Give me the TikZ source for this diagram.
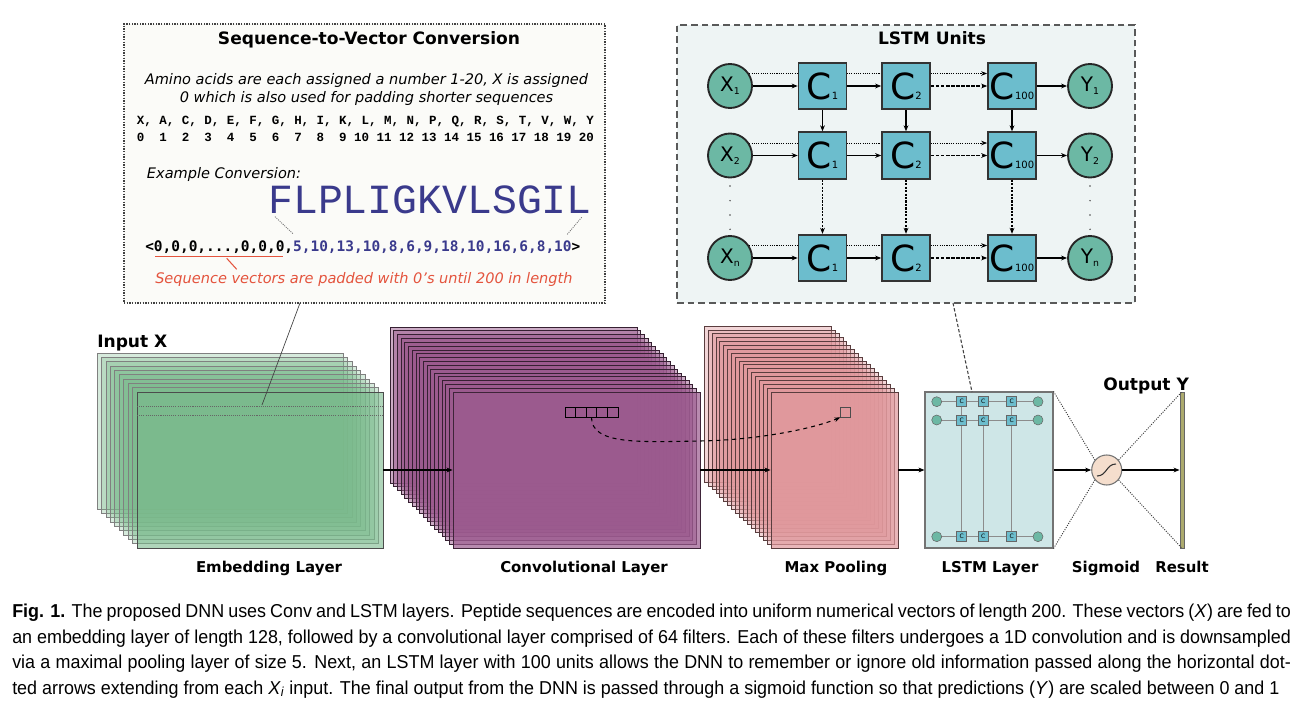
\documentclass[tikz,border=0pt]{standalone}
\usepackage{fontspec}
\setmainfont{DejaVu Sans}
\newfontfamily\courf{Liberation Mono}
\newfontfamily\djmono{DejaVu Sans Mono}
\newfontfamily\capfont[FakeStretch=0.96]{Liberation Sans}
\usetikzlibrary{arrows.meta,calc}
\pgfdeclarelayer{bgl}
\pgfdeclarelayer{midl}
\pgfsetlayers{bgl,midl,main}
\definecolor{navy}{RGB}{58,58,140}
\definecolor{redt}{RGB}{228,84,62}
\definecolor{embG}{RGB}{122,186,140}
\definecolor{convP}{RGB}{155,90,142}
\definecolor{poolR}{RGB}{224,152,156}
\definecolor{lstmL}{RGB}{206,230,231}
\definecolor{cellC}{RGB}{108,189,205}
\definecolor{circG}{RGB}{108,184,164}
\definecolor{sigF}{RGB}{245,222,205}
\definecolor{resG}{RGB}{172,170,110}
\definecolor{seqbg}{RGB}{251,251,248}
\definecolor{lstmbg}{RGB}{238,244,244}
\newcommand{\Cbig}[1]{{\fontsize{27}{27}\selectfont C}{\fontsize{7.5}{7.5}\selectfont #1}}
\newcommand{\Xsm}[2]{{\fontsize{15}{15}\selectfont #1}{\fontsize{7}{7}\selectfont\raisebox{-2.5pt}{#2}}}
\tikzset{
 arr/.style={line width=0.8pt,-{Stealth[length=4.5pt,width=3.6pt]}},
 dasharr/.style={arr, line width=1pt, dash pattern=on 2.6pt off 1.2pt},
 dotarr/.style={line width=0.6pt, dash pattern=on 0.8pt off 0.9pt, -{Stealth[length=4.5pt,width=3.4pt]}},
 cellbox/.style={draw=black!80, line width=1.3pt, fill=cellC, minimum width=36pt, minimum height=35pt, inner sep=0},
 unitcirc/.style={circle, draw=black!85, line width=1.4pt, fill=circG, minimum size=33pt, inner sep=0},
 lbl/.style={font=\bfseries\fontsize{11.2}{13}\selectfont, inner sep=0},
 big/.style={font=\bfseries\fontsize{12.8}{15}\selectfont, inner sep=0},
 ital/.style={font=\itshape\fontsize{10.9}{13.5}\selectfont, inner sep=0},
 sheetE/.style={fill=embG, fill opacity=0.3, draw=black!50, line width=0.5pt},
 sheetC/.style={fill=convP, fill opacity=0.5, draw=convP!35!black, line width=0.5pt},
 sheetP/.style={fill=poolR, fill opacity=0.4, draw=poolR!40!black, line width=0.5pt},
 mcell/.style={draw=black!60, line width=0.4pt, fill=cellC, minimum size=7.5pt, inner sep=0, font=\fontsize{4.5}{5}\selectfont},
 mcirc/.style={circle, draw=black!60, line width=0.4pt, fill=circG, minimum size=7.5pt, inner sep=0},
 win/.style={draw=black, line width=0.6pt, minimum width=7.95pt, minimum height=7.5pt, inner sep=0},
 capl/.style={anchor=base west, inner sep=0, font=\capfont\fontsize{14}{16}\selectfont},
}
\begin{document}
\begin{tikzpicture}[x=0.75pt,y=-0.75pt]
\useasboundingbox (0,0) rectangle (1302,716);

% ---------- background boxes
\begin{pgfonlayer}{bgl}
\fill[white] (0,0) rectangle (1302,716);
\node[draw=black!75, dash pattern=on 1pt off 1pt, line width=0.8pt, fill=seqbg, minimum width=360.75pt, minimum height=209.25pt, inner sep=0] (seqbox) at (364.5,163.5) {};
\node[draw=black!65, dash pattern=on 5pt off 3pt, line width=1.2pt, fill=lstmbg, minimum width=343.5pt, minimum height=208.5pt, inner sep=0] (lstmbox) at (906,164) {};
\end{pgfonlayer}

\node[big, anchor=base] (seqtitle) at (369,44.5) {Sequence-to-Vector Conversion};
\node[ital, anchor=base] (it1) at (366.5,84.8) {Amino acids are each assigned a number 1-20, X is assigned};
\node[ital, anchor=base] (it2) at (366.5,102.8) {0 which is also used for padding shorter sequences};
\foreach \L [count=\i from 0] in {X,A,C,D,E,F,G,H,I,K,L,M,N,P,Q,R,S,T,V,W,Y}{
  \pgfmathsetmacro\lx{136.7+22.47*\i}
  \node[anchor=base west, inner sep=0, font=\courf\bfseries\fontsize{9.36}{10}\selectfont] (l\i) at (\lx,124.7) {\L\ifnum\i<20,\fi};
  \ifnum\i<10
    \node[anchor=base west, inner sep=0, font=\courf\bfseries\fontsize{9.36}{10}\selectfont] (n\i) at (\lx,141.3) {\i};
  \else
    \node[anchor=base west, inner sep=0, font=\courf\bfseries\fontsize{9.36}{10}\selectfont] (n\i) at (\lx-7.49,141.3) {\i};
  \fi
}
\node[ital, anchor=base west] (ex) at (146.7,178.8) {Example Conversion:};
\node[anchor=base west, inner sep=0, text=navy, font=\courf\fontsize{31.1}{32}\selectfont] (seq) at (268,213.3) {FLPLIGKVLSGIL};
\draw[black!55, line width=0.6pt, dash pattern=on 0.8pt off 0.8pt] (275,216.7) -- (293.3,234);
\draw[black!55, line width=0.6pt, dash pattern=on 0.8pt off 0.8pt] (581.7,217.3) -- (566.7,235);
\node[anchor=base west, inner sep=0, font=\djmono\bfseries\fontsize{10.84}{12}\selectfont] (vec) at (145,251.3) {<0,0,0,...,0,0,0,\textcolor{navy}{5,10,13,10,8,6,9,18,10,16,6,8,10}>};
\draw[redt, line width=0.8pt] (155,256.7) -- (283.3,256.7);
\draw[redt, line width=0.8pt] (226.7,258.3) -- (236.7,269.3);
\node[ital, anchor=base west, text=redt] (pad) at (155,283.8) {Sequence vectors are padded with 0's until 200 in length};

% ---------- LSTM units
\node[big, anchor=base] (lstmtitle) at (932,44.5) {LSTM Units};
\foreach \r/\yy in {1/86,2/155.5,n/258}{
  \node[unitcirc] (x\r) at (730,\yy) {\Xsm{X}{\r}};
  \node[cellbox] (a\r) at (822.5,\yy) {\Cbig{1}};
  \node[cellbox] (b\r) at (906,\yy) {\Cbig{2}};
  \node[cellbox] (c\r) at (1012,\yy) {\Cbig{100}};
  \node[unitcirc] (y\r) at (1090,\yy) {\Xsm{Y}{\r}};
}
\begin{pgfonlayer}{midl}
\foreach \r in {1,2,n}{
  \draw[dotarr] (x\r.33) -- (x\r.33 -| c\r.west);
}
\end{pgfonlayer}
\foreach \r in {1,2,n}{
  \draw[arr] (x\r) -- (a\r);
  \draw[arr] (a\r) -- (b\r);
  \draw[dasharr] (b\r) -- (c\r);
  \draw[arr] (c\r) -- (y\r);
}
\foreach \c in {a,b,c}{
  \draw[arr] (\c1) -- (\c2);
  \draw[dasharr, line width=0.9pt, dash pattern=on 1.6pt off 1pt] (\c2) -- (\c n);
}
\foreach \yy in {186,200.7,215,229.3}{
  \fill[black!70] (730,\yy) circle (0.6pt);
  \fill[black!70] (1090,\yy) circle (0.6pt);
}

% ---------- Embedding stack
\foreach \i in {9,8,...,1}{
  \pgfmathsetmacro\ox{137-40*\i/9}
  \pgfmathsetmacro\oy{392-39*\i/9}
  \draw[sheetE] (\ox,\oy) rectangle ++(246,156);
}
\node[fill=embG, fill opacity=0.6, draw=black!70, line width=0.7pt, minimum width=184.5pt, minimum height=117pt, inner sep=0] (emb) at (260,470) {};
\draw[black!60, line width=0.5pt, dash pattern=on 0.8pt off 0.8pt] (137,406) -- (383,406);
\draw[black!60, line width=0.5pt, dash pattern=on 0.8pt off 0.8pt] (137,415) -- (383,415);

% ---------- Conv stack
\foreach \i in {17,16,...,1}{
  \pgfmathsetmacro\ox{453-63*\i/17}
  \pgfmathsetmacro\oy{392-65*\i/17}
  \draw[sheetC] (\ox,\oy) rectangle ++(247,156);
}
\node[fill=convP, fill opacity=0.7, draw=convP!40!black, line width=0.7pt, minimum width=185.25pt, minimum height=117pt, inner sep=0] (conv) at (576.5,470) {};
\foreach \k [count=\j] in {0,1,2,3,4}{
  \node[win] (w\j) at (570.3+10.6*\k,412) {};
}

% ---------- Pool stack
\foreach \i in {17,16,...,1}{
  \pgfmathsetmacro\ox{771-67*\i/17}
  \pgfmathsetmacro\oy{392-66*\i/17}
  \draw[sheetP] (\ox,\oy) rectangle ++(127,156);
}
\node[fill=poolR, fill opacity=0.7, draw=poolR!40!black, line width=0.7pt, minimum width=95.25pt, minimum height=117pt, inner sep=0] (pool) at (834.5,470) {};
\node[win, draw=black!70, minimum width=7.5pt] (pb) at (845.7,412) {};

\draw[dashed, line width=0.8pt, -{Stealth[length=4.5pt,width=3.4pt]}] (w3.south) .. controls (591.5,445) and (640,442) .. (700,441) .. controls (760,440) and (815,428) .. (pb.south west);

% ---------- LSTM layer
\node[draw=black!55, line width=0.8pt, fill=lstmL, minimum width=96pt, minimum height=117pt, inner sep=0] (lstmL) at (989,470) {};
\foreach \yy in {401.7,420,536.7}{
  \draw[black!45, line width=0.4pt] (936.7,\yy) -- (1038,\yy);
}
\foreach \xx in {961.7,983.3,1011.7}{
  \draw[black!45, line width=0.4pt] (\xx,401.7) -- (\xx,536.7);
}
\foreach \yy [count=\q] in {401.7,420,536.7}{
  \node[mcirc] (mx\q) at (936.7,\yy) {};
  \node[mcell] (ma\q) at (961.7,\yy) {C};
  \node[mcell] (mb\q) at (983.3,\yy) {C};
  \node[mcell] (mc\q) at (1011.7,\yy) {C};
  \node[mcirc] (my\q) at (1038,\yy) {};
}

% ---------- Sigmoid and result
\node[circle, fill=sigF, draw=black!55, line width=0.8pt, minimum size=22.5pt, inner sep=0] (sig) at (1106.7,470) {};
\draw[black!80, line width=0.8pt] (1097,476) .. controls (1107,476) and (1106,464) .. (1116,464);
\node[draw=black!60, line width=0.5pt, fill=resG, minimum width=3.2pt, minimum height=117pt, inner sep=0] (res) at (1182,470) {};
\draw[black!75, line width=0.7pt, dash pattern=on 0.8pt off 1pt] (lstmL.north east) -- (sig.140);
\draw[black!75, line width=0.7pt, dash pattern=on 0.8pt off 1pt] (sig.-40) -- (res.south);
\draw[black!75, line width=0.7pt, dash pattern=on 0.8pt off 1pt] (lstmL.south east) -- (sig.-140);
\draw[black!75, line width=0.7pt, dash pattern=on 0.8pt off 1pt] (sig.40) -- (res.north);

% ---------- main arrows
\draw[arr] (emb.east) -- (conv.west);
\draw[arr] (conv.east) -- (pool.west);
\draw[arr] (pool.east) -- (lstmL.west);
\draw[arr] (lstmL.east) -- (sig.west);
\draw[arr] (sig.east) -- (res.west);

% ---------- connectors from the boxes
\coordinate (sbot) at (300,303);
\coordinate (erow) at (262,405);
\draw[black!75, line width=0.5pt] (sbot) -- (erow);
\coordinate (lbot) at (953,303);
\coordinate (ltop) at (972,392);
\draw[black!75, line width=0.8pt, dash pattern=on 2.5pt off 1.5pt] (lbot) -- (ltop);

% ---------- labels
\node[big, anchor=base west] (inx) at (97,348) {Input X};
\node[big, anchor=base west] (outy) at (1103,390) {Output Y};
\node[lbl, anchor=base] (l-emb) at (269,572) {Embedding Layer};
\node[lbl, anchor=base] (l-conv) at (584,572) {Convolutional Layer};
\node[lbl, anchor=base] (l-pool) at (836,572) {Max Pooling};
\node[lbl, anchor=base] (l-lstm) at (990,572) {LSTM Layer};
\node[lbl, anchor=base] (l-sig) at (1106,572) {Sigmoid};
\node[lbl, anchor=base] (l-res) at (1182,572) {Result};

% ---------- caption
\node[capl] (cap1) at (12,617) {\makebox[959pt][s]{\textbf{Fig. 1.} The proposed DNN uses Conv and LSTM layers. Peptide sequences are encoded into uniform numerical vectors of length 200. These vectors (\textit{X}) are fed to}};
\node[capl] (cap2) at (12,643) {\makebox[959pt][s]{an embedding layer of length 128, followed by a convolutional layer comprised of 64 filters. Each of these filters undergoes a 1D convolution and is downsampled}};
\node[capl] (cap3) at (12,668) {\makebox[959pt][s]{via a maximal pooling layer of size 5. Next, an LSTM layer with 100 units allows the DNN to remember or ignore old information passed along the horizontal dot-}};
\node[capl] (cap4) at (12,694) {ted arrows extending from each \textit{X}\textsubscript{\textit{i}} input. The final output from the DNN is passed through a sigmoid function so that predictions (\textit{Y}) are scaled between 0 and 1};
\end{tikzpicture}
\end{document}
